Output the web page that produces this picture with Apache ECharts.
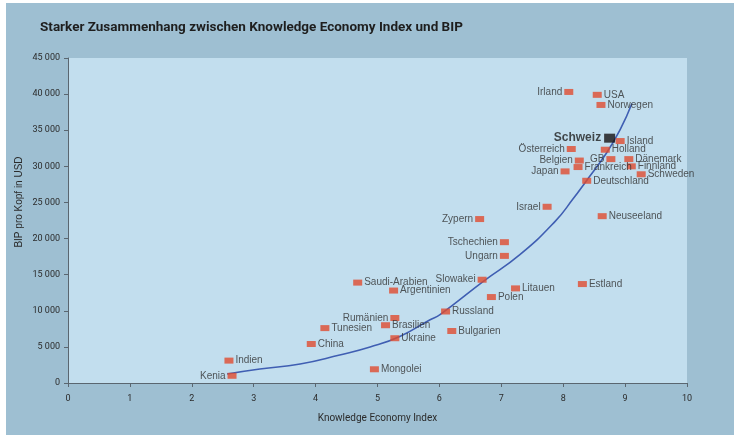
<!DOCTYPE html>
<html>
<head>
<meta charset="utf-8">
<script src="https://cdn.jsdelivr.net/npm/echarts@6/dist/echarts.min.js"></script>
<style>
  html, body { margin: 0; padding: 0; background: #fff; }
  #chart { width: 734px; height: 435px; }
</style>
</head>
<body>
<div id="chart"></div>
<script>
// Länder, Knowledge Economy Index und BIP pro Kopf
const countries = ['Irland', 'USA', 'Norwegen', 'Island', 'Österreich', 'Holland', 'Belgien', 'GB',
  'Dänemark', 'Frankreich', 'Finnland', 'Japan', 'Schweden', 'Deutschland', 'Israel', 'Zypern',
  'Neuseeland', 'Tschechien', 'Ungarn', 'Slowakei', 'Litauen', 'Estland', 'Polen', 'Saudi-Arabien',
  'Argentinien', 'Rumänien', 'Brasilien', 'Tunesien', 'China', 'Ukraine', 'Russland', 'Bulgarien',
  'Indien', 'Kenia', 'Mongolei']
const kei = [8.09, 8.55, 8.61, 8.92, 8.13, 8.68, 8.26, 8.77,
  9.06, 8.24, 9.10, 8.03, 9.26, 8.38, 7.74, 6.65,
  8.63, 7.05, 7.05, 6.69, 7.23, 8.31, 6.84, 4.68,
  5.26, 5.28, 5.13, 4.15, 3.93, 5.28, 6.10, 6.20,
  2.60, 2.65, 4.95]
const bip = [40300, 39900, 38500, 33500, 32400, 32300, 30800, 31000,
  31000, 29900, 30000, 29300, 28900, 28000, 24400, 22700,
  23100, 19500, 17600, 14300, 13100, 13700, 11900, 13900,
  12800, 9000, 8000, 7600, 5400, 6200, 9900, 7200,
  3100, 1000, 1900]

// Schweiz separat hervorgehoben
const swissKei = 8.75
const swissBip = 33900

// Trendkurve
const trendKei = [2.57, 3.10, 3.75, 4.39, 4.88, 5.36, 5.85, 6.01, 6.71, 7.30, 7.87, 8.16, 8.35, 8.70, 8.92, 9.11]
const trendBip = [1250, 1940, 2630, 3880, 4980, 6450, 8760, 9460, 14070, 17760, 22380, 25500, 27700, 31850, 35070, 38700]

const xTicks = [0, 10, 1]
const yTicks = [0, 45000, 5000]

// Beschriftungen links vom Punkt
const leftLabels = ['Irland', 'Österreich', 'Belgien', 'GB', 'Japan', 'Israel', 'Zypern',
  'Tschechien', 'Ungarn', 'Slowakei', 'Rumänien', 'Kenia']

const fmt = v => String(v).replace(/\B(?=(\d{3})+(?!\d))/g, ' ')

const chart = echarts.init(document.getElementById('chart'))

const pointData = countries.map((name, i) => ({
  name: name,
  value: [kei[i], bip[i]],
  label: { position: leftLabels.includes(name) ? 'left' : 'right' }
}))

const option = {
  backgroundColor: '#ffffff',
  animation: false,
  title: {
    text: 'Starker Zusammenhang zwischen Knowledge Economy Index und BIP',
    left: 35,
    top: 16,
    textStyle: {
      fontFamily: 'Roboto',
      fontWeight: 'bold',
      fontSize: 13.5,
      color: '#1e1e1e'
    }
  },
  graphic: [
    {
      type: 'rect',
      z: -10,
      shape: { x: 6, y: 3, width: 728, height: 432 },
      style: { fill: '#9ebfd2' }
    },
    {
      type: 'text',
      x: 19,
      y: 202,
      rotation: Math.PI / 2,
      style: {
        text: 'BIP pro Kopf in USD',
        fontFamily: 'Liberation Sans',
        fontSize: 10,
        fill: '#2b2b2b',
        align: 'center',
        verticalAlign: 'middle'
      }
    }
  ],
  grid: {
    left: 68,
    right: 47,
    top: 58,
    bottom: 52,
    show: true,
    backgroundColor: '#c2deee',
    borderWidth: 0
  },
  xAxis: {
    type: 'value',
    min: xTicks[0],
    max: xTicks[1],
    interval: xTicks[2],
    name: 'Knowledge Economy Index',
    nameLocation: 'middle',
    nameGap: 30,
    nameTextStyle: { fontFamily: 'Roboto', fontSize: 10, color: '#2b2b2b' },
    axisLine: { lineStyle: { color: '#5a6670', width: 1 } },
    axisTick: { show: true, length: 4, lineStyle: { color: '#5a6670' } },
    axisLabel: { fontFamily: 'Roboto', fontSize: 9, color: '#2b2b2b', margin: 11 },
    splitLine: { show: false }
  },
  yAxis: {
    type: 'value',
    min: yTicks[0],
    max: yTicks[1],
    interval: yTicks[2],
    axisLine: { show: true, lineStyle: { color: '#5a6670', width: 1 } },
    axisTick: { show: true, length: 4, lineStyle: { color: '#5a6670' } },
    axisLabel: { fontFamily: 'Roboto', fontSize: 9, color: '#2b2b2b', margin: 8, formatter: fmt },
    splitLine: { show: false }
  },
  series: [
    {
      type: 'line',
      data: trendKei.map((x, i) => [x, trendBip[i]]),
      smooth: true,
      symbol: 'none',
      lineStyle: { color: '#3f5eb2', width: 1.6 },
      z: 2
    },
    {
      type: 'scatter',
      data: pointData,
      symbol: 'rect',
      symbolSize: [9, 6],
      itemStyle: { color: '#e04b30' },
      label: {
        show: true,
        formatter: '{b}',
        distance: 2,
        fontFamily: 'Liberation Sans',
        fontSize: 10,
        color: '#2f2f2f'
      },
      z: 3
    },
    {
      type: 'scatter',
      data: [{ name: 'Schweiz', value: [swissKei, swissBip] }],
      symbol: 'rect',
      symbolSize: [11, 9],
      itemStyle: { color: '#161213' },
      label: {
        show: true,
        position: 'left',
        formatter: '{b}',
        distance: 3,
        fontFamily: 'Liberation Sans',
        fontWeight: 'bold',
        fontSize: 12,
        color: '#1e1e1e'
      },
      z: 4
    }
  ]
}

chart.setOption(option)
</script>
</body>
</html>
